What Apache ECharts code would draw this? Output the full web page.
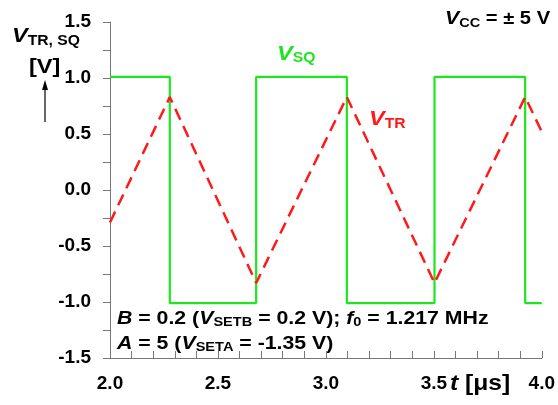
<!DOCTYPE html>
<html><head><meta charset="utf-8">
<script src="https://cdn.jsdelivr.net/npm/echarts@6/dist/echarts.min.js"></script>
<style>html,body{margin:0;padding:0;background:#fff}#c{width:558px;height:405px}</style>
</head><body><div id="c"></div>
<script>
// Square wave V_SQ (t in µs, V)
var sqTimes  = [2.0, 2.277, 2.277, 2.677, 2.677, 3.097, 3.097, 3.503, 3.503, 3.923, 3.923, 4.0];
var sqValues = [1.01, 1.01, -1.01, -1.01, 1.01, 1.01, -1.01, -1.01, 1.01, 1.01, -1.01, -1.01];
// Triangle wave V_TR
var trTimes  = [2.0, 2.277, 2.677, 3.097, 3.503, 3.923, 4.0];
var trValues = [-0.29, 0.83, -0.83, 0.83, -0.83, 0.83, 0.52];
// Axis ticks
var xTicks = [2.0, 2.5, 3.0, 3.5, 4.0];
var yTicks = [-1.5, -1.0, -0.5, 0.0, 0.5, 1.0, 1.5];

function pairs(a, b){ return a.map(function(v,i){ return [v, b[i]]; }); }

var F = 'Liberation Sans, Arial, sans-serif';
var SX = 1.12;
function rt(x, y, text, rich){
  return {type:'text', x:x, y:y, scaleX:SX, scaleY:1, originX:0, originY:0,
    style:{text:text, rich:rich, verticalAlign:'top', align:'left'}};
}
function bold(fs, fill, italic, lh, va){
  var o = {fontFamily:F, fontWeight:'bold', fontSize:fs, fill:fill||'#000', lineHeight:lh};
  if (italic) o.fontStyle = 'italic';
  if (va) o.verticalAlign = va;
  return o;
}
var chart = echarts.init(document.getElementById('c'), null, {renderer:'canvas'});
var axisCol = '#777';
var GREEN = '#1ee61e', RED = '#ff1a1a';
chart.setOption({
  animation:false,
  backgroundColor:'#fff',
  grid:{left:110, top:22, right:14.5, bottom:47, containLabel:false},
  xAxis:{
    type:'value', min:xTicks[0], max:xTicks[xTicks.length-1], interval:0.5,
    axisLine:{show:true, onZero:false, lineStyle:{color:axisCol, width:1}},
    axisTick:{show:true, inside:true, length:7, lineStyle:{color:axisCol}},
    minorTick:{show:true, splitNumber:5, length:7, lineStyle:{color:axisCol}},
    splitLine:{show:false},
    axisLabel:{margin:16, color:'#000', fontFamily:F, fontWeight:'bold', fontSize:19,
      formatter:function(v){ return v.toFixed(1); }}
  },
  yAxis:{
    type:'value', min:yTicks[0], max:yTicks[yTicks.length-1], interval:0.5,
    axisLine:{show:true, onZero:false, lineStyle:{color:axisCol, width:1}},
    axisTick:{show:true, inside:false, length:7, lineStyle:{color:axisCol}},
    minorTick:{show:true, splitNumber:2, length:7, lineStyle:{color:axisCol}},
    splitLine:{show:false},
    axisLabel:{margin:19, color:'#000', fontFamily:F, fontWeight:'bold', fontSize:19,
      formatter:function(v){ return v.toFixed(1); }}
  },
  series:[
    {type:'line', data:pairs(trTimes, trValues), symbol:'none',
     lineStyle:{color:RED, width:2.5, type:[12,7]}, z:3},
    {type:'line', data:pairs(sqTimes, sqValues), symbol:'none',
     lineStyle:{color:GREEN, width:2.2}, z:2}
  ],
  graphic:[
    rt(12, 24, '{v|V}{s|TR, SQ}', {v:bold(21,'#000',true,24), s:bold(14,'#000',false,14,'bottom')}),
    rt(29, 55, '{n|[V]}', {n:bold(21,'#000',false,24)}),
    {type:'line', shape:{x1:45, y1:122, x2:45, y2:88}, style:{stroke:'#000', lineWidth:1.2}},
    {type:'polygon', shape:{points:[[45,80],[42,90],[48,90]]}, style:{fill:'#000'}},
    rt(445, 8, '{v|V}{s|CC}{n| = ± 5 V}', {v:bold(19,'#000',true,22), s:bold(13,'#000',false,13,'bottom'), n:bold(18,'#000',false,22)}),
    rt(277, 43, '{v|V}{s|SQ}', {v:bold(21,GREEN,true,22), s:bold(14,GREEN,false,13,'bottom')}),
    rt(369, 107, '{v|V}{s|TR}', {v:bold(21,RED,true,24), s:bold(14,RED,false,14,'bottom')}),
    rt(117, 308, '{i|B}{n| = 0.2 (}{i|V}{s|SETB}{n| = 0.2 V); }{i|f}{s|0}{n| = 1.217 MHz}',
      {i:bold(19,'#000',true,21), n:bold(19,'#000',false,21), s:bold(13,'#000',false,12,'bottom')}),
    rt(117, 333, '{i|A}{n| = 5 (}{i|V}{s|SETA}{n| = -1.35 V)}',
      {i:bold(19,'#000',true,21), n:bold(19,'#000',false,21), s:bold(13,'#000',false,12,'bottom')}),
    rt(450, 372, '{i|t}{n| [μs]}', {i:bold(22,'#000',true,24), n:bold(22,'#000',false,24)})
  ]
});
</script></body></html>
